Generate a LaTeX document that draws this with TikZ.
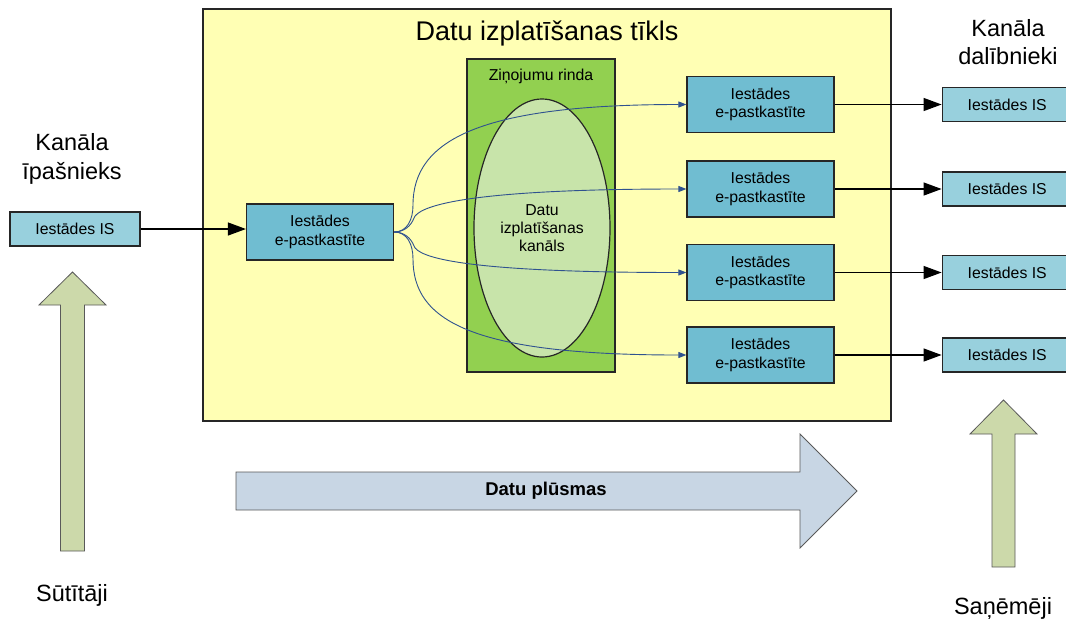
\documentclass[tikz,border=0pt]{standalone}
\usepackage{fontspec}
\setmainfont{Liberation Sans}
\usetikzlibrary{shapes.geometric,arrows.meta,positioning}

\definecolor{dzeltens}{RGB}{255,255,180}
\definecolor{rindaszals}{RGB}{146,208,80}
\definecolor{kanalazals}{RGB}{200,228,170}
\definecolor{pastkaste}{RGB}{112,189,209}
\definecolor{sistemas}{RGB}{152,208,221}
\definecolor{bultzala}{RGB}{204,217,170}
\definecolor{plusmaszila}{RGB}{200,214,228}
\definecolor{liknes}{RGB}{47,82,143}

\begin{document}
\begin{tikzpicture}[x=1pt, y=-1pt,
    every node/.style={font=\fontsize{15.8}{18.3}\selectfont, inner sep=0pt},
    robeza/.style={draw=black!85, line width=1.2pt},
    kastite/.style={robeza, fill=pastkaste, minimum width=147pt, minimum height=56pt, align=center},
    sistema/.style={robeza, fill=sistemas, minimum width=130pt, minimum height=34pt},
    uzraksts/.style={font=\fontsize{23.5}{28.5}\selectfont, align=center},
    kontura/.style={draw=black!65, line width=0.8pt},
    bulta/.style={line width=1.2pt, -{Triangle[length=18pt,width=13pt]}},
    likne/.style={draw=liknes, line width=0.9pt, -{Triangle[length=8pt,width=6pt]}}]
  \useasboundingbox (0,0) rectangle (1066,622);

  % tikls
  \node[robeza, fill=dzeltens, minimum width=688pt, minimum height=412pt] (tikls) at (547,215) {};
  \node[font=\fontsize{27}{32}\selectfont] (tiklsnos) at (547,33) {Datu izplatīšanas tīkls};
  \node[robeza, fill=rindaszals, minimum width=148pt, minimum height=313pt] (rinda) at (541,215.5) {};
  \node (rindanos) at (541,76) {Ziņojumu rinda};
  \node[ellipse, robeza, fill=kanalazals, minimum width=136pt, minimum height=258pt, align=center]
    (kanals) at (542,228) {Datu\\izplatīšanas\\kanāls};

  % liknes
  \node[kastite] (avots) at (320,232) {Iestādes\\e-pastkastīte};
  \node[kastite] (k1) at (760.5,104.5) {Iestādes\\e-pastkastīte};
  \node[kastite] (k2) at (760.5,189) {Iestādes\\e-pastkastīte};
  \node[kastite] (k3) at (760.5,272.5) {Iestādes\\e-pastkastīte};
  \node[kastite] (k4) at (760.5,355) {Iestādes\\e-pastkastīte};
  \draw[likne] (avots.east) .. controls (407,232) and (413,220) .. (413,205)
    .. controls (413,140) and (480,104.5) .. (k1.west);
  \draw[likne] (avots.east) .. controls (404,232) and (411,226) .. (414,218)
    .. controls (418,207) and (460,189) .. (k2.west);
  \draw[likne] (avots.east) .. controls (404,232) and (411,238) .. (414,246)
    .. controls (418,257) and (460,272.5) .. (k3.west);
  \draw[likne] (avots.east) .. controls (407,232) and (413,244) .. (413,259)
    .. controls (413,320) and (470,355) .. (k4.west);

  % sistemas
  \node[sistema] (isavots) at (75,229) {Iestādes IS};
  \draw[bulta] (isavots.east) -- (isavots.east -| avots.west);
  \foreach \n in {1,...,4} {
    \node[sistema, right=107pt of k\n] (is\n) {Iestādes IS};
    \draw[bulta] (k\n) -- (is\n);
  }

  \node[uzraksts] (ipasnieks) at (72,159) {Kanāla\\īpašnieks};
  \node[uzraksts] (dalibnieki) at (1008,42) {Kanāla\\dalībnieki};

  % bultas
  \filldraw[kontura, fill=bultzala] (60.5,551) -- (60.5,305) -- (39,305) -- (72.5,272)
    -- (106,305) -- (84.5,305) -- (84.5,551) -- cycle;
  \filldraw[kontura, fill=bultzala] (992,567) -- (992,434) -- (970,434) -- (1003.5,400)
    -- (1037,434) -- (1015,434) -- (1015,567) -- cycle;
  \filldraw[kontura, fill=plusmaszila] (236,472) -- (800,472) -- (800,434) -- (857,491)
    -- (800,548) -- (800,510) -- (236,510) -- cycle;
  \node[font=\bfseries\fontsize{18.5}{22}\selectfont] (plusma) at (546,491) {Datu plūsmas};

  \node[uzraksts, anchor=base] (sutitaji) at (72,601) {Sūtītāji};
  \node[uzraksts, anchor=base] (sanemeji) at (1003,614) {Saņēmēji};
\end{tikzpicture}
\end{document}
